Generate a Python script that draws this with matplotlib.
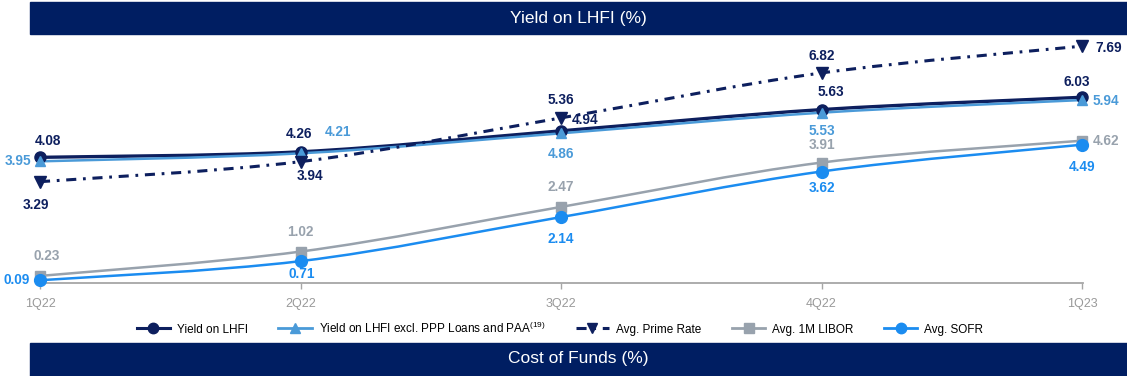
import matplotlib
matplotlib.use("Agg")
import matplotlib.pyplot as plt
import numpy as np
from matplotlib.path import Path
from matplotlib.patches import PathPatch, Rectangle
from matplotlib.lines import Line2D

plt.rcParams['font.family'] = ['Liberation Sans', 'DejaVu Sans']
plt.rcParams['mathtext.fontset'] = 'custom'
plt.rcParams['mathtext.rm'] = 'Liberation Sans'

quarters = ["1Q22", "2Q22", "3Q22", "4Q22", "1Q23"]
yield_lhfi = [4.08, 4.26, 4.94, 5.63, 6.03]
yield_excl = [3.95, 4.21, 4.86, 5.53, 5.94]
prime_rate = [3.29, 3.94, 5.36, 6.82, 7.69]
libor_1m = [0.23, 1.02, 2.47, 3.91, 4.62]
sofr = [0.09, 0.71, 2.14, 3.62, 4.49]

NAVY = "#0d1f5e"
LIGHT = "#4a9ad8"
GRAY = "#98a2ad"
BLUE = "#1b8cf0"
BANNER = "#001e62"


def smooth_path(x, y, t=0.5):
    # catmull-rom style bezier through the data points
    x = np.asarray(x, float)
    y = np.asarray(y, float)
    verts = [(x[0], y[0])]
    codes = [Path.MOVETO]
    n = len(x)
    for i in range(n - 1):
        x0, y0 = (x[i - 1], y[i - 1]) if i > 0 else (x[i], y[i])
        x3, y3 = (x[i + 2], y[i + 2]) if i + 2 < n else (x[i + 1], y[i + 1])
        c1 = (x[i] + (x[i + 1] - x0) * t / 3, y[i] + (y[i + 1] - y0) * t / 3)
        c2 = (x[i + 1] - (x3 - x[i]) * t / 3, y[i + 1] - (y3 - y[i]) * t / 3)
        verts += [c1, c2, (x[i + 1], y[i + 1])]
        codes += [Path.CURVE4] * 3
    return Path(verts, codes)


fig = plt.figure(figsize=(11.27, 3.76), dpi=100)
ax = fig.add_axes([40 / 1127, 93 / 376, 1042 / 1127, 246.4 / 376])
ax.set_xlim(0, 4)
ax.set_ylim(0, 8)
xs = np.arange(len(quarters))

series = [
    (yield_lhfi, NAVY, 2.4, '-', 'o', 8),
    (yield_excl, LIGHT, 1.8, '-', '^', 7.5),
    (prime_rate, NAVY, 2.2, (0, (3.3, 2.2, 0.9, 2.2)), 'v', 8),
    (libor_1m, GRAY, 1.8, '-', 's', 7.5),
    (sofr, BLUE, 1.8, '-', 'o', 8.5),
]
for vals, c, lw, ls, mk, ms in series:
    ax.add_patch(PathPatch(smooth_path(xs, vals), fill=False, edgecolor=c,
                           lw=lw, linestyle=ls, clip_on=False, zorder=3))
    ax.plot(xs, vals, linestyle='none', marker=mk, color=c, ms=ms,
            clip_on=False, zorder=4)

# data labels (offsets in points)
def lab(i, v, txt, c, dx, dy, ha='center'):
    ax.annotate(txt, (i, v), xytext=(dx, dy), textcoords='offset points',
                ha=ha, va='center', color=c, fontsize=9.8, fontweight='bold')

f = lambda v: f"{v:.2f}"
# Yield on LHFI
lab(0, yield_lhfi[0], f(yield_lhfi[0]), NAVY, 6, 12)
lab(1, yield_lhfi[1], f(yield_lhfi[1]), NAVY, -1, 13)
lab(2, yield_lhfi[2], f(yield_lhfi[2]), NAVY, 17, 8)
lab(3, yield_lhfi[3], f(yield_lhfi[3]), NAVY, 7, 13)
lab(4, yield_lhfi[4], f(yield_lhfi[4]), NAVY, -4, 11)
# excl PPP
lab(0, yield_excl[0], f(yield_excl[0]), LIGHT, -16, 0)
lab(1, yield_excl[1], f(yield_excl[1]), LIGHT, 27, 15)
lab(2, yield_excl[2], f(yield_excl[2]), LIGHT, 0, -15)
lab(3, yield_excl[3], f(yield_excl[3]), LIGHT, 0, -13)
lab(4, yield_excl[4], f(yield_excl[4]), LIGHT, 17, -1)
# prime
lab(0, prime_rate[0], f(prime_rate[0]), NAVY, -3, -17)
lab(1, prime_rate[1], f(prime_rate[1]), NAVY, 7, -10)
lab(2, prime_rate[2], f(prime_rate[2]), NAVY, 0, 13)
lab(3, prime_rate[3], f(prime_rate[3]), NAVY, 0, 12)
lab(4, prime_rate[4], f(prime_rate[4]), NAVY, 19, -1)
# libor
lab(0, libor_1m[0], f(libor_1m[0]), GRAY, 5, 14)
lab(1, libor_1m[1], f(libor_1m[1]), GRAY, 0, 14)
lab(2, libor_1m[2], f(libor_1m[2]), GRAY, 0, 14)
lab(3, libor_1m[3], f(libor_1m[3]), GRAY, 0, 13)
lab(4, libor_1m[4], f(libor_1m[4]), GRAY, 17, 0)
# sofr
lab(0, sofr[0], f(sofr[0]), BLUE, -17, 0)
lab(1, sofr[1], f(sofr[1]), BLUE, 1, -9)
lab(2, sofr[2], f(sofr[2]), BLUE, 0, -16)
lab(3, sofr[3], f(sofr[3]), BLUE, 0, -12)
lab(4, sofr[4], f(sofr[4]), BLUE, 0, -16)

# axis
for s in ax.spines.values():
    s.set_visible(False)
ax.axhline(0, xmin=-0.002, xmax=1.001, color="#a6a6a6", lw=1.3, clip_on=False)
ax.set_yticks([])
ax.set_xticks(xs)
ax.set_xticklabels(quarters)
ax.tick_params(axis='x', length=4, width=1, color="#a6a6a6",
               labelcolor="#999999", labelsize=9, pad=7)

# legend
handles = [
    Line2D([], [], color=NAVY, lw=2.2, marker='o', ms=7.5),
    Line2D([], [], color=LIGHT, lw=2, marker='^', ms=7.5),
    Line2D([], [], color=NAVY, lw=2.2, linestyle=(0, (3.3, 2.2, 0.9, 2.2)), marker='v', ms=7.5),
    Line2D([], [], color=GRAY, lw=2, marker='s', ms=7.5),
    Line2D([], [], color=BLUE, lw=2, marker='o', ms=7.5),
]
labels = ["Yield on LHFI",
          "Yield on LHFI excl. PPP Loans and PAA$^{(19)}$",
          "Avg. Prime Rate", "Avg. 1M LIBOR", "Avg. SOFR"]
fig.legend(handles, labels, loc='center', bbox_to_anchor=(560 / 1127, 1 - 328 / 376),
           ncol=5, frameon=False, fontsize=8.5, handlelength=2.8,
           columnspacing=2.6, handletextpad=0.6)

# banners
fig.patches.append(Rectangle((30 / 1127, 1 - 34 / 376), 1, 32 / 376,
                             transform=fig.transFigure, color=BANNER, zorder=0))
fig.patches.append(Rectangle((30 / 1127, 0), 1, 33 / 376,
                             transform=fig.transFigure, color=BANNER, zorder=0))
fig.text(578 / 1127, 1 - 18 / 376, "Yield on LHFI (%)", color="white",
         ha='center', va='center', fontsize=12.5)
fig.text(578 / 1127, 1 - 359 / 376, "Cost of Funds (%)", color="white",
         ha='center', va='center', fontsize=12.5)

fig.savefig("out.png", dpi=100)
